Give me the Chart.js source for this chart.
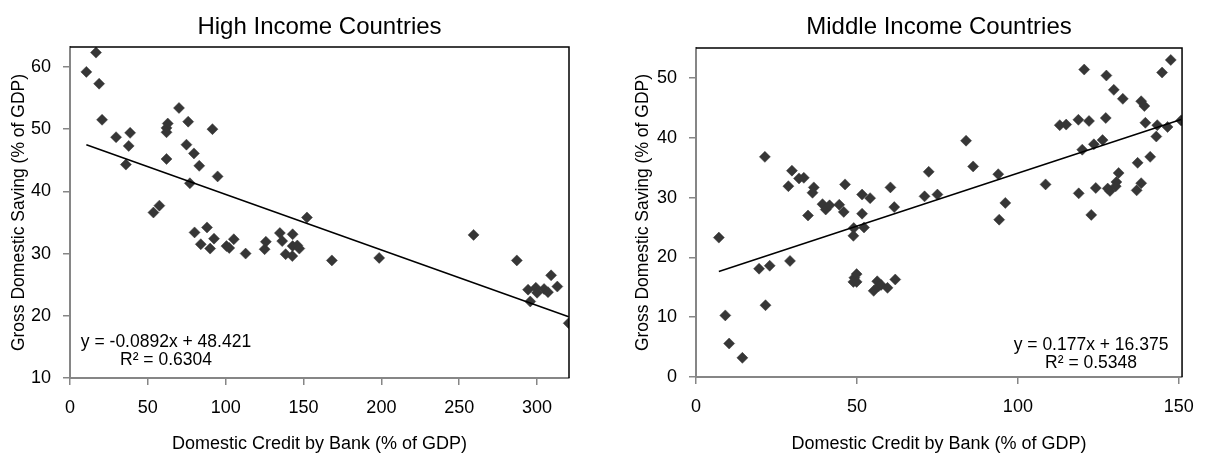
<!DOCTYPE html>
<html>
<head>
<meta charset="utf-8">
<script src="https://cdn.jsdelivr.net/npm/chart.js@4.4.1/dist/chart.umd.min.js"></script>
<style>
    body { margin: 0; background: #fff; width: 1206px; height: 455px; overflow: hidden; position: relative; }
    .box { position: absolute; top: 0; width: 603px; height: 455px; }
</style>
</head>
<body>
<div class="box" style="left:0"><canvas id="high"></canvas></div>
<div class="box" style="left:603px"><canvas id="middle"></canvas></div>
<script>
//====================================== data ======================================

// High income countries: domestic credit by bank (x) and gross domestic saving (y)
const highCredit = [10.5, 16.7, 18.7, 20.6, 29.6, 38.6, 37.7, 35.9, 53.6, 57.4,
    62.8, 62.0, 62.0, 62.0, 70.0, 75.9, 74.8, 79.6, 83.0, 91.5,
    94.8, 77.0, 80.0, 88.0, 84.0, 92.5, 90.0, 100.5, 102.3, 105.2,
    112.8, 125.0, 125.8, 134.8, 136.3, 138.5, 143.0, 143.0, 142.8, 146.0,
    147.3, 152.2, 168.2, 198.6, 259.2, 287.0, 294.2, 295.6, 299.2, 300.0,
    304.5, 307.0, 309.0, 313.0, 320.3];
const highSaving = [59.2, 62.3, 57.3, 51.5, 48.7, 49.4, 47.3, 44.3, 36.6, 37.7,
    50.9, 50.2, 49.5, 45.2, 53.4, 51.2, 47.5, 46.1, 44.1, 50.0,
    42.4, 41.3, 33.4, 34.2, 31.5, 32.4, 30.8, 31.2, 30.9, 32.3,
    30.0, 30.7, 31.9, 33.3, 32.0, 29.9, 33.1, 31.2, 29.6, 31.3,
    30.8, 35.8, 28.9, 29.3, 33.0, 28.9, 24.2, 22.3, 24.5, 23.7,
    24.3, 23.8, 26.5, 24.7, 18.8];

// Middle income countries
const middleCredit = [7.1, 9.1, 10.3, 14.4, 19.6, 22.9, 21.4, 21.6, 28.7, 29.8,
    29.2, 32.0, 33.5, 34.8, 36.6, 36.2, 39.3, 40.3, 41.5, 44.5,
    45.9, 46.3, 49.0, 48.9, 49.2, 49.9, 48.9, 49.9, 51.6, 51.6,
    52.2, 54.1, 55.2, 56.3, 56.8, 57.5, 59.5, 61.9, 60.4, 61.6,
    71.0, 72.3, 75.0, 83.9, 86.1, 93.9, 94.2, 96.1, 108.6, 113.0,
    115.0, 118.8, 118.9, 120.0, 120.6, 122.1, 122.8, 123.6, 124.2, 126.3,
    127.3, 127.5, 127.9, 128.6, 129.8, 130.6, 130.4, 131.3, 132.6, 136.9,
    137.2, 138.3, 138.3, 139.3, 139.6, 141.1, 143.0, 143.3, 144.8, 146.5,
    147.5, 150.7];
const middleSaving = [23.3, 10.3, 5.6, 3.2, 18.1, 18.6, 36.8, 12.0, 31.9, 34.5,
    19.4, 33.2, 33.3, 27.0, 31.7, 30.8, 28.9, 28.0, 28.7, 28.8,
    27.6, 32.2, 24.9, 23.6, 16.6, 17.2, 15.9, 15.9, 30.5, 27.3,
    25.0, 29.9, 14.4, 16.0, 15.2, 15.4, 14.9, 16.3, 31.7, 28.4,
    30.2, 34.3, 30.5, 39.5, 35.2, 33.9, 26.3, 29.1, 32.2, 42.1,
    42.2, 43.0, 30.7, 38.0, 51.4, 42.8, 27.1, 38.9, 31.6, 39.6,
    43.3, 50.4, 31.5, 31.1, 48.0, 32.6, 31.9, 34.1, 46.5, 31.2,
    35.8, 46.1, 32.4, 45.3, 42.5, 36.8, 40.2, 42.1, 50.9, 41.8,
    53.0, 42.9];

// tick labels
const highTicksX = [0, 50, 100, 150, 200, 250, 300];
const highTicksY = [10, 20, 30, 40, 50, 60];
const middleTicksX = [0, 50, 100, 150];
const middleTicksY = [0, 10, 20, 30, 40, 50];

// trendlines as printed on the charts
const highSlope = -0.0892, highIntercept = 48.421, highR2 = '0.6304';
const middleSlope = 0.177, middleIntercept = 16.375, middleR2 = '0.5348';

//====================================== chart ======================================

Chart.defaults.font.family = "'Liberation Sans', Arial, sans-serif";
Chart.defaults.color = '#000';

// black frame on top and right of the plot area (axes are drawn gray)
const frame = {
    id: 'frame',
    afterDatasetsDraw(chart) {
        const a = chart.chartArea, ctx = chart.ctx;
        ctx.save();
        ctx.strokeStyle = '#000';
        ctx.lineWidth = 1.5;
        ctx.beginPath();
        ctx.moveTo(a.left, a.top);
        ctx.lineTo(a.right, a.top);
        ctx.lineTo(a.right, a.bottom);
        ctx.stroke();
        ctx.restore();
    }
};

// trendline equation text
const equation = {
    id: 'equation',
    afterDatasetsDraw(chart, args, opts) {
        if (!opts.lines) return;
        const a = chart.chartArea, ctx = chart.ctx;
        const cx = opts.fromRight ? a.right - opts.dx : a.left + opts.dx;
        ctx.save();
        ctx.font = "17.5px 'Liberation Sans', Arial, sans-serif";
        ctx.fillStyle = '#000';
        ctx.textAlign = 'center';
        ctx.textBaseline = 'middle';
        opts.lines.forEach((t, i) => ctx.fillText(t, cx, a.bottom - opts.dy + i * 18));
        ctx.restore();
    }
};

function trendPoints(xs, slope, intercept) {
    const lo = Math.min(...xs), hi = Math.max(...xs);
    return [{x: lo, y: slope * lo + intercept}, {x: hi, y: slope * hi + intercept}];
}

function makeChart(id, cfg) {
    const points = cfg.xs.map((x, i) => ({x: x, y: cfg.ys[i]}));
    const ctx = document.getElementById(id).getContext('2d');
    return new Chart(ctx, {
        type: 'scatter',
        data: {
            datasets: [{
                type: 'line',
                data: trendPoints(cfg.xs, cfg.slope, cfg.intercept),
                borderColor: '#000',
                borderWidth: 1.5,
                pointRadius: 0
            }, {
                data: points,
                pointStyle: 'rectRot',
                pointRadius: 5.5,
                backgroundColor: '#363636',
                borderColor: '#363636',
                borderWidth: 0.5
            }]
        },
        options: {
            responsive: true,
            maintainAspectRatio: false,
            animation: false,
            layout: { padding: { left: 0, right: cfg.padRight, top: 0, bottom: 0 } },
            plugins: {
                legend: { display: false },
                tooltip: { enabled: false },
                title: {
                    display: true,
                    text: cfg.title,
                    fullSize: false,
                    color: '#000',
                    font: { size: 24, weight: 'normal' },
                    padding: { top: 12.5, bottom: cfg.titleBottom }
                },
                equation: cfg.equation
            },
            scales: {
                x: {
                    type: 'linear',
                    min: cfg.xMin, max: cfg.xMax,
                    afterBuildTicks: s => { s.ticks = cfg.ticksX.map(v => ({value: v})); },
                    afterFit: s => { s.height = cfg.xHeight; },
                    ticks: { font: { size: 18 }, padding: 12, maxRotation: 0 },
                    grid: { drawOnChartArea: false, tickLength: 7, color: '#868686', lineWidth: 1.5 },
                    border: { color: '#868686', width: 2 },
                    title: { display: true, text: 'Domestic Credit by Bank (% of GDP)', font: { size: 18 }, padding: { top: 0, bottom: 0 } }
                },
                y: {
                    min: cfg.yMin, max: cfg.yMax,
                    afterBuildTicks: s => { s.ticks = cfg.ticksY.map(v => ({value: v})); },
                    afterFit: s => { s.width = cfg.yWidth; },
                    ticks: { font: { size: 18 }, padding: 12 },
                    grid: { drawOnChartArea: false, tickLength: 7, color: '#868686', lineWidth: 1.5 },
                    border: { color: '#868686', width: 2 },
                    title: { display: true, text: 'Gross Domestic Saving (% of GDP)', font: { size: 17.5 }, padding: { top: cfg.yTitlePad, bottom: 0 } }
                }
            }
        },
        plugins: [frame, equation]
    });
}

makeChart('high', {
    title: 'High Income Countries',
    xs: highCredit, ys: highSaving,
    slope: highSlope, intercept: highIntercept,
    xMin: 0, xMax: 320.5, yMin: 10, yMax: 63.2,
    ticksX: highTicksX, ticksY: highTicksY,
    yWidth: 70, xHeight: 77, padRight: 34, titleBottom: 5.7, yTitlePad: 8.5,
    equation: { lines: [`y = ${highSlope}x + ${highIntercept}`, `R² = ${highR2}`], dx: 96, dy: 36, fromRight: false }
});

makeChart('middle', {
    title: 'Middle Income Countries',
    xs: middleCredit, ys: middleSaving,
    slope: middleSlope, intercept: middleIntercept,
    xMin: 0, xMax: 151, yMin: 0, yMax: 55,
    ticksX: middleTicksX, ticksY: middleTicksY,
    yWidth: 93, xHeight: 78, padRight: 14, titleBottom: 6.7, yTitlePad: 29.5,
    equation: { lines: [`y = ${middleSlope}x + ${middleIntercept}`, `R² = ${middleR2}`], dx: 91, dy: 32, fromRight: true }
});
</script>
</body>
</html>
